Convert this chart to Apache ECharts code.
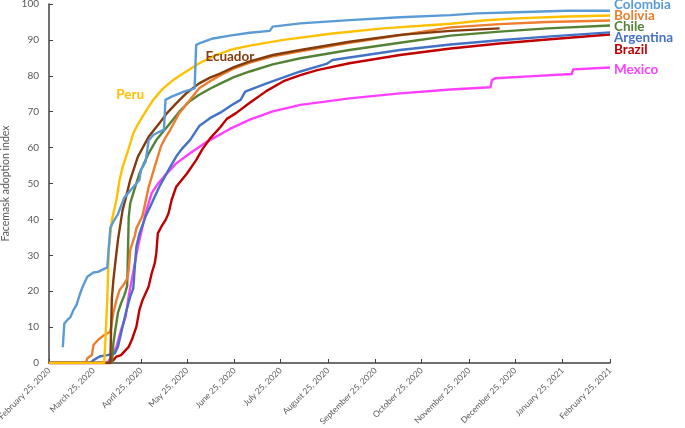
<!DOCTYPE html>
<html>
<head>
<meta charset="utf-8">
<script src="https://cdn.jsdelivr.net/npm/echarts@6/dist/echarts.min.js"></script>
<style>
  html, body { margin: 0; padding: 0; background: #fff; }
  #chart { width: 685px; height: 428px; }
</style>
</head>
<body>
<div id="chart"></div>
<script>
// ---- Data (date, facemask adoption index) ----
const tickDates = ['2020-02-25','2020-03-25','2020-04-25','2020-05-25','2020-06-25','2020-07-25',
  '2020-08-25','2020-09-25','2020-10-25','2020-11-25','2020-12-25','2021-01-25','2021-02-25'];

const colombia = [['2020-03-05',4.4],['2020-03-06',11],['2020-03-08',12],['2020-03-10',12.8],['2020-03-12',14.8],
  ['2020-03-14',16.2],['2020-03-16',19],['2020-03-18',21.3],['2020-03-21',24],['2020-03-25',25.2],['2020-03-28',25.4],
  ['2020-04-01',26.2],['2020-04-03',26.6],['2020-04-05',37.6],['2020-04-07',39.4],['2020-04-10',41.5],['2020-04-14',46],
  ['2020-04-20',49],['2020-04-24',51],['2020-04-25',53.8],['2020-04-28',56],['2020-04-30',62],['2020-05-03',63.5],
  ['2020-05-07',64.4],['2020-05-10',65],['2020-05-11',73.3],['2020-05-15',74.2],['2020-05-23',75.6],['2020-05-30',76.5],
  ['2020-05-31',88.6],['2020-06-02',89],['2020-06-11',90.4],['2020-06-22',91.2],['2020-07-05',92],['2020-07-18',92.5],
  ['2020-07-20',93.7],['2020-08-07',94.6],['2020-09-08',95.5],['2020-10-11',96.3],['2020-11-13',96.9],['2020-11-30',97.4],
  ['2020-12-26',97.7],['2021-01-28',98.1],['2021-02-25',98.1]];

const bolivia = [['2020-02-25',0],['2020-03-20',0],['2020-03-21',1.3],['2020-03-24',2.2],['2020-03-25',5],['2020-03-28',6.4],
  ['2020-03-31',7.5],['2020-04-05',8.7],['2020-04-07',14],['2020-04-09',17.5],['2020-04-11',20.3],['2020-04-14',22],
  ['2020-04-16',23.5],['2020-04-17',25.9],['2020-04-18',31.5],['2020-04-21',35.5],['2020-04-22',37.5],['2020-04-26',41],
  ['2020-04-28',45],['2020-04-30',49],['2020-05-04',54.7],['2020-05-08',60.3],['2020-05-11',62.8],['2020-05-14',64.9],
  ['2020-05-20',69.6],['2020-05-27',73.3],['2020-06-02',76.5],['2020-06-09',78.5],['2020-06-16',80.2],['2020-06-25',82.1],
  ['2020-07-05',83.7],['2020-07-20',85.4],['2020-08-07',86.8],['2020-09-08',89.2],['2020-10-11',91.3],['2020-11-13',93.5],
  ['2020-12-15',94.4],['2021-01-15',95],['2021-02-25',95.4]];

const chile = [['2020-02-25',0],['2020-04-06',0],['2020-04-07',5.5],['2020-04-08',8.5],['2020-04-10',14],['2020-04-12',16.6],
  ['2020-04-14',18.7],['2020-04-15',20],['2020-04-16',21.5],['2020-04-17',40.5],['2020-04-18',44.5],['2020-04-20',47.3],
  ['2020-04-24',52.8],['2020-04-30',58.4],['2020-05-05',62.1],['2020-05-14',66.8],['2020-05-20',70],['2020-05-27',73],
  ['2020-06-02',74.7],['2020-06-09',76.4],['2020-06-16',77.9],['2020-06-25',79.7],['2020-07-05',81.2],['2020-07-20',83.2],
  ['2020-08-07',84.9],['2020-09-08',87.2],['2020-10-11',89.2],['2020-11-13',91.2],['2020-12-15',92.3],['2021-01-15',93.2],
  ['2021-02-25',94]];

const argentina = [['2020-02-25',0],['2020-03-23',0],['2020-03-25',0.8],['2020-03-29',1.8],['2020-04-03',2.2],['2020-04-08',2.7],
  ['2020-04-10',4.5],['2020-04-12',8.2],['2020-04-15',13.8],['2020-04-18',18.5],['2020-04-20',20.8],['2020-04-21',26.8],
  ['2020-04-22',32.4],['2020-04-24',36],['2020-04-28',40.8],['2020-05-01',43.5],['2020-05-03',45.4],['2020-05-07',49.1],
  ['2020-05-13',53.8],['2020-05-18',57.5],['2020-05-22',59.8],['2020-05-27',62.1],['2020-06-02',66],['2020-06-09',68.2],
  ['2020-06-16',69.8],['2020-06-23',71.8],['2020-06-29',73.3],['2020-07-02',75.6],['2020-07-16',77.9],['2020-08-07',81.2],
  ['2020-08-24',83.3],['2020-08-28',84.4],['2020-09-19',85.8],['2020-10-11',87.2],['2020-11-13',88.7],['2020-12-15',89.9],
  ['2021-01-15',90.9],['2021-02-25',92.1]];

const brazil = [['2020-02-25',0],['2020-04-05',0],['2020-04-07',0.8],['2020-04-09',1.8],['2020-04-12',2.2],['2020-04-15',3.6],
  ['2020-04-17',4.5],['2020-04-19',6.4],['2020-04-22',10.1],['2020-04-24',14.8],['2020-04-26',17.5],['2020-04-30',21.3],
  ['2020-05-02',25],['2020-05-04',27.8],['2020-05-05',30.6],['2020-05-06',36.1],['2020-05-09',38.5],['2020-05-11',39.8],
  ['2020-05-13',41.7],['2020-05-15',45.4],['2020-05-18',49.1],['2020-05-25',52.8],['2020-05-31',56.5],['2020-06-04',59.5],
  ['2020-06-09',62.5],['2020-06-16',65.8],['2020-06-20',68],['2020-06-26',69.6],['2020-07-05',72.5],['2020-07-16',75.8],
  ['2020-07-27',78.5],['2020-08-07',80.2],['2020-08-18',81.6],['2020-09-08',83.5],['2020-10-11',85.8],['2020-11-13',87.6],
  ['2020-12-15',89],['2021-01-15',90.1],['2021-02-25',91.5]];

const mexico = [['2020-02-25',0],['2020-04-03',0],['2020-04-06',1.8],['2020-04-09',4.5],['2020-04-12',9.2],['2020-04-15',12.9],
  ['2020-04-17',18.5],['2020-04-19',23.1],['2020-04-21',27.8],['2020-04-23',32.4],['2020-04-25',36],['2020-04-28',41.7],
  ['2020-05-02',47.3],['2020-05-06',49.9],['2020-05-10',51.9],['2020-05-18',55.6],['2020-05-27',58.4],['2020-06-07',61.6],
  ['2020-06-22',65.2],['2020-07-05',67.8],['2020-07-20',70.1],['2020-08-07',71.9],['2020-09-08',73.7],['2020-10-11',75.1],
  ['2020-11-13',76.2],['2020-12-09',76.8],['2020-12-10',78.8],['2020-12-12',79.3],['2021-01-06',79.9],['2021-01-31',80.5],
  ['2021-02-01',81.8],['2021-02-25',82.3]];

const peru = [['2020-02-25',0],['2020-04-01',0],['2020-04-02',8],['2020-04-03',17.5],['2020-04-04',31.5],['2020-04-06',39.8],
  ['2020-04-08',43.5],['2020-04-09',45.4],['2020-04-11',51],['2020-04-13',54.5],['2020-04-16',58.4],['2020-04-20',64],
  ['2020-04-23',66.5],['2020-04-26',68.6],['2020-04-29',70.7],['2020-05-03',73.3],['2020-05-09',76.3],['2020-05-16',78.8],
  ['2020-05-23',80.8],['2020-06-02',83.5],['2020-06-12',85.6],['2020-06-24',87.4],['2020-07-05',88.4],['2020-07-27',90],
  ['2020-08-28',91.8],['2020-09-30',93.2],['2020-11-13',94.5],['2020-12-04',95.4],['2020-12-26',96],['2021-01-28',96.5],
  ['2021-02-25',96.8]];

const ecuador = [['2020-02-25',0],['2020-04-05',0],['2020-04-06',18],['2020-04-07',23],['2020-04-08',27],['2020-04-10',34.3],
  ['2020-04-13',42.6],['2020-04-15',45.8],['2020-04-18',51],['2020-04-23',57.5],['2020-04-30',63],['2020-05-07',66.8],
  ['2020-05-12',69.6],['2020-05-18',72.3],['2020-05-25',75.3],['2020-06-02',77.9],['2020-06-09',79.5],['2020-06-16',80.7],
  ['2020-06-25',82.5],['2020-07-05',84],['2020-07-20',85.8],['2020-08-07',87.2],['2020-09-08',89.5],['2020-10-11',91.4],
  ['2020-11-13',92.5],['2020-12-15',93.2]];

const peruLabelAt = ['2020-04-18', 74.7];
const ecuadorLabelAt = ['2020-06-22', 85.2];

// ---- Chart ----
const MONTHS = ['January','February','March','April','May','June','July','August','September','October','November','December'];
const DAY = 86400000;
function utc(s) { const p = s.split('-').map(Number); return Date.UTC(p[0], p[1]-1, p[2]); }
const ORIGIN = utc(tickDates[0]);
function dayOf(s) { return Math.round((utc(s) - ORIGIN) / DAY); }
function fmt(day) { const d = new Date(ORIGIN + day * DAY); return MONTHS[d.getUTCMonth()] + ' ' + d.getUTCDate() + ', ' + d.getUTCFullYear(); }
function conv(arr) { return arr.map(function (p) { return [dayOf(p[0]), p[1]]; }); }

const FONT = 'Lato';
function mkSeries(name, data, color, endOffset, z) {
  const s = {
    name: name, type: 'line', data: conv(data), showSymbol: false, symbol: 'none',
    lineStyle: { color: color, width: 2.4, join: 'round' }, itemStyle: { color: color }, z: z || 2,
    animation: false
  };
  if (endOffset) {
    s.endLabel = {
      show: true, formatter: name, color: color, fontFamily: FONT, fontWeight: 'bold',
      fontSize: 13.5, offset: endOffset, distance: 4
    };
  }
  return s;
}

const series = [
  mkSeries('Mexico', mexico, '#FF3FFF', [0, 2]),
  mkSeries('Brazil', brazil, '#C00000', [0, 15]),
  mkSeries('Argentina', argentina, '#4472C4', [0, 5]),
  mkSeries('Chile', chile, '#548235', [0, 1]),
  mkSeries('Bolivia', bolivia, '#ED7D31', [0, -5]),
  mkSeries('Ecuador', ecuador, '#843C0C', null),
  mkSeries('Peru', peru, '#FFC000', null),
  mkSeries('Colombia', colombia, '#5B9BD5', [0, -6])
];
function addTag(s, at, color) {
  s.markPoint = {
    symbol: 'rect', symbolSize: [1, 1], itemStyle: { color: 'rgba(0,0,0,0)' }, animation: false,
    label: { show: true, position: 'inside', formatter: s.name, color: color, fontFamily: FONT,
      fontWeight: 'bold', fontSize: 13.5 },
    data: [{ coord: [dayOf(at[0]), at[1]] }]
  };
}
addTag(series[6], peruLabelAt, '#FFC000');
addTag(series[5], ecuadorLabelAt, '#843C0C');

const tickDays = tickDates.map(dayOf);
const chart = echarts.init(document.getElementById('chart'), null, { renderer: 'canvas' });
chart.setOption({
  animation: false,
  backgroundColor: '#fff',
  grid: { left: 49, right: 75, top: 4, bottom: 65, containLabel: false, outerBoundsMode: 'none' },
  xAxis: {
    type: 'value', min: tickDays[0], max: tickDays[tickDays.length - 1],
    axisLine: { show: true, lineStyle: { color: '#404040', width: 1.5 } },
    axisTick: { show: true, inside: true, length: 4, customValues: tickDays, lineStyle: { color: '#404040' } },
    axisLabel: { show: true, customValues: tickDays, rotate: 45, formatter: function (v) { return fmt(v); },
      color: '#595959', fontFamily: FONT, fontSize: 8.5, margin: 6, hideOverlap: false },
    splitLine: { show: false }
  },
  yAxis: {
    type: 'value', min: 0, max: 100, interval: 10,
    name: 'Facemask adoption index', nameLocation: 'middle', nameGap: 30,
    nameTextStyle: { color: '#595959', fontFamily: FONT, fontSize: 10.5 },
    axisLine: { show: true, lineStyle: { color: '#404040', width: 1.5 } },
    axisTick: { show: true, inside: true, length: 4, lineStyle: { color: '#404040' } },
    axisLabel: { color: '#595959', fontFamily: FONT, fontSize: 10, margin: 10 },
    splitLine: { show: false }
  },
  series: series
});
</script>
</body>
</html>
